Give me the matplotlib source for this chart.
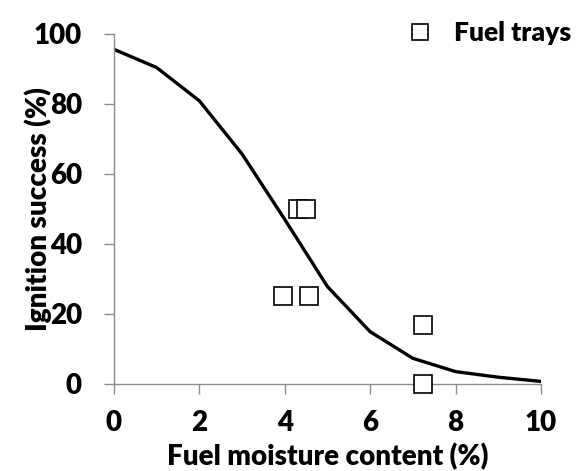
import matplotlib.pyplot as plt
from matplotlib.lines import Line2D

# model curve (read at integer moisture values)
curve_x = [0, 1, 2, 3, 4, 5, 6, 7, 8, 9, 10]
curve_y = [95.6, 90.4, 80.9, 65.7, 47.0, 27.8, 14.9, 7.3, 3.5, 1.9, 0.7]

# fuel tray observations
tray_x = [4.31, 4.50, 3.96, 4.56, 7.23, 7.23]
tray_y = [50, 50, 25, 25, 16.7, 0]

plt.rcParams['font.family'] = ['Lato', 'DejaVu Sans']
plt.rcParams['font.weight'] = 'bold'

fig = plt.figure(figsize=(5.78, 4.71), dpi=100)
ax = fig.add_axes([0.197, 0.185, 0.739, 0.743])

ax.plot(curve_x, curve_y, color='black', lw=2.4, solid_joinstyle='miter')
ax.plot(tray_x, tray_y, ls='none', marker='s', ms=13.5, mfc='white',
        mec='black', mew=1.2, clip_on=False, zorder=5)

ax.set_xlim(0, 10)
ax.set_ylim(0, 100)
ax.set_xticks(range(0, 11, 2))
ax.set_yticks(range(0, 101, 20))

for s in ['top', 'right']:
    ax.spines[s].set_visible(False)
for s in ['left', 'bottom']:
    ax.spines[s].set_color('#8c8c8c')
    ax.spines[s].set_linewidth(1.0)

ax.tick_params(axis='both', direction='out', length=7, width=1.0,
               color='#8c8c8c', labelsize=20)
ax.tick_params(axis='x', pad=12)
ax.tick_params(axis='y', pad=16)
for lab in ax.get_xticklabels() + ax.get_yticklabels():
    lab.set_fontweight('heavy')

ax.set_xlabel('Fuel moisture content (%)', fontsize=20, fontweight='heavy',
              va='baseline')
ax.xaxis.set_label_coords(0.5, -0.232)
ax.set_ylabel('Ignition success (%)', fontsize=20, fontweight='heavy', labelpad=-13)

handle = Line2D([], [], ls='none', marker='s', ms=12, mfc='white',
                mec='black', mew=1.2)
fig.legend([handle], ['Fuel trays'], loc='upper right',
           bbox_to_anchor=(1.03, 1.005), frameon=False,
           prop={'size': 19, 'weight': 'heavy'}, handletextpad=0.3)

fig.savefig('out.png', dpi=100)
